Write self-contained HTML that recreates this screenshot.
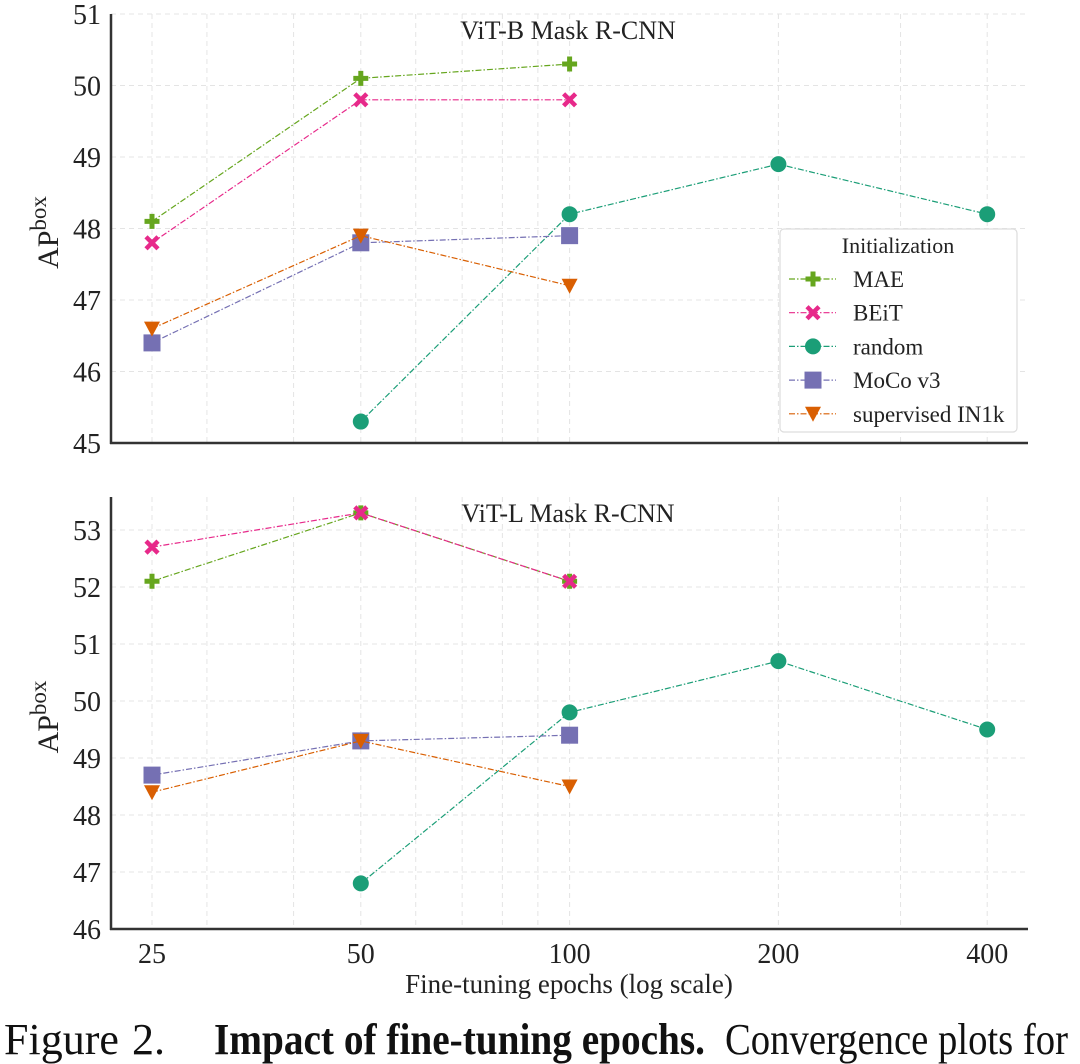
<!DOCTYPE html>
<html><head><meta charset="utf-8"><style>
html,body{margin:0;padding:0;background:#fff;}
svg{display:block;font-family:"Liberation Serif",serif;}
</style></head><body>
<svg id="fig" width="1080" height="1064" viewBox="0 0 1080 1064" xmlns="http://www.w3.org/2000/svg">
<text y="1054" font-size="44" fill="#111"><tspan x="4">Figure</tspan><tspan x="132">2.</tspan><tspan x="214" font-weight="bold" textLength="491" lengthAdjust="spacingAndGlyphs">Impact of fine-tuning epochs.</tspan><tspan x="725" textLength="343" lengthAdjust="spacingAndGlyphs">Convergence plots for</tspan></text>
</svg>
<script>
const epochs=[25,50,100,200,400];
const seriesNames=["MAE","BEiT","random","MoCo v3","supervised IN1k"];
const colors=["#66a61e","#e7298a","#1b9e77","#7570b3","#d95f02"];
const markers=["plus","x","circle","square","tri"];
// top: ViT-B
const topMAE=[48.1,50.1,50.3,null,null];
const topBEiT=[47.8,49.8,49.8,null,null];
const topRandom=[null,45.3,48.2,48.9,48.2];
const topMoCo=[46.4,47.8,47.9,null,null];
const topSup=[46.6,47.9,47.2,null,null];
// bottom: ViT-L
const botMAE=[52.1,53.3,52.1,null,null];
const botBEiT=[52.7,53.3,52.1,null,null];
const botRandom=[null,46.8,49.8,50.7,49.5];
const botMoCo=[48.7,49.3,49.4,null,null];
const botSup=[48.4,49.3,48.5,null,null];
const topTicks=[45,46,47,48,49,50,51];
const botTicks=[46,47,48,49,50,51,52,53];
const xTickLabels=["25","50","100","200","400"];
const minorX=[30,40,60,70,80,90,300];

const NS="http://www.w3.org/2000/svg";
const svg=document.getElementById('fig');
function el(tag,attrs,parent){const e=document.createElementNS(NS,tag);for(const k in attrs)e.setAttribute(k,attrs[k]);(parent||svg).appendChild(e);return e;}
const X0=111,X1=1028;
const xs=v=>152+Math.log2(v/25)*208.8;

function panel(name,title,yMin,yMax,yTop,yBot,ticks,data,legend){
  const g=el('g',{});
  
  
  const ys=v=>yBot-(v-yMin)/(yMax-yMin)*(yBot-yTop);
  const top=name==='top-panel'?14:497;
  for(const t of ticks){const l=el('line',{x1:X0,x2:X1,y1:ys(t),y2:ys(t),stroke:'#e4e4e4','stroke-width':1,'stroke-dasharray':'5,4'},g);
    }
  for(const v of epochs.concat(minorX)){const l=el('line',{x1:xs(v),x2:xs(v),y1:top,y2:yBot,stroke:'#e4e4e4','stroke-width':1,'stroke-dasharray':'5,4'},g);
    }
  const ya=el('line',{x1:X0,x2:X0,y1:top,y2:yBot+1,stroke:'#333','stroke-width':2.5},g);
  
  const xa=el('line',{x1:X0-1,x2:X1,y1:yBot,y2:yBot,stroke:'#333','stroke-width':2.5},g);
  
  for(const t of ticks){const tx=el('text',{x:101,y:ys(t)+10,'text-anchor':'end','font-size':28,fill:'#222'},g);tx.textContent=t;
    }
  const yl=el('text',{transform:`translate(58,${(top+yBot)/2+4}) rotate(-90)`,'text-anchor':'middle','font-size':30,fill:'#222'},g);
  yl.innerHTML='AP<tspan font-size="23" dy="-12">box</tspan>';
  
  const tt=el('text',{x:568,y:top+25,'text-anchor':'middle','font-size':26,fill:'#222'},g);tt.textContent=title;
  
  data.forEach((arr,i)=>{
    const pts=[];arr.forEach((v,j)=>{if(v!==null)pts.push([xs(epochs[j]),ys(v)]);});
    const pl=el('polyline',{points:pts.map(p=>p.join(',')).join(' '),fill:'none',stroke:colors[i],'stroke-width':1.2,'stroke-dasharray':'6,2,1.5,2'},g);
    
    pts.forEach(p=>{const m=marker(markers[i],p[0],p[1],colors[i],g);});
  });
  if(legend){
    const lg=el('g',{},g);
    
    el('rect',{x:780,y:229,width:237,height:203,rx:4,fill:'#fff',stroke:'#ddd','stroke-width':1.2},lg);
    const lt=el('text',{x:898,y:253,'text-anchor':'middle','font-size':22,fill:'#222'},lg);lt.textContent='Initialization';
    seriesNames.forEach((n,i)=>{const y=279+i*33.7;
      const e=el('g',{},lg);
      el('line',{x1:789,x2:836,y1:y,y2:y,stroke:colors[i],'stroke-width':1.2,'stroke-dasharray':'6,2,1.5,2'},e);
      marker(markers[i],813,y,colors[i],e);
      const t=el('text',{x:853,y:y+8,'font-size':23,fill:'#222'},e);t.textContent=n;});
  }
}
function marker(type,x,y,c,p){
  if(type==='circle')return el('circle',{cx:x,cy:y,r:8,fill:c},p);
  if(type==='square')return el('rect',{x:x-8.5,y:y-8.5,width:17,height:17,fill:c},p);
  if(type==='tri')return el('polygon',{points:`${x-8},${y-7} ${x+8},${y-7} ${x},${y+8}`,fill:c},p);
  if(type==='plus')return el('path',{d:`M${x-2.5},${y-7.5}h5v5h5v5h-5v5h-5v-5h-5v-5h5z`,fill:c},p);
  return el('path',{d:`M${x-6},${y-6}L${x+6},${y+6}M${x+6},${y-6}L${x-6},${y+6}`,stroke:c,'stroke-width':4.5,'stroke-linecap':'butt'},p);
}
panel('top-panel','ViT-B Mask R-CNN',45,51,14,443,topTicks,[topMAE,topBEiT,topRandom,topMoCo,topSup],true);
panel('bottom-panel','ViT-L Mask R-CNN',46,53,530,929,botTicks,[botMAE,botBEiT,botRandom,botMoCo,botSup],false);
xTickLabels.forEach((l,i)=>{const t=el('text',{x:xs(epochs[i]),y:963,'text-anchor':'middle','font-size':28,fill:'#222'});t.textContent=l;
  });
const xt=el('text',{x:569,y:993,'text-anchor':'middle','font-size':27,fill:'#222'});xt.textContent='Fine-tuning epochs (log scale)';

</script>
</body></html>
